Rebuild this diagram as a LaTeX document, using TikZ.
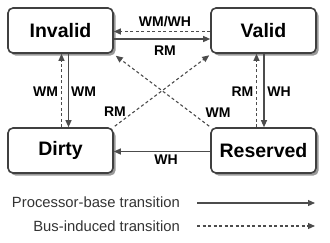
\documentclass[tikz,border=0pt]{standalone}
\usepackage{fontspec}
\setmainfont{Liberation Sans}
\usetikzlibrary{arrows.meta,shadows}
\begin{document}
\begin{tikzpicture}[x=1pt,y=-1pt,
  state/.style={draw=black!75,line width=1.6pt,rounded corners=5pt,fill=white,
    minimum width=105pt,minimum height=45pt,inner sep=0pt,
    font=\fontsize{19.5}{22}\selectfont\bfseries,
    drop shadow={shadow xshift=2.5pt,shadow yshift=-2.5pt,fill=black!40,opacity=1}},
  lbl/.style={font=\fontsize{14}{16}\selectfont\bfseries,inner sep=0pt},
  legend/.style={font=\fontsize{14.8}{16}\selectfont,inner sep=0pt,anchor=east,text=black!80},
  proc/.style={draw=black!70,line width=1.1pt,-{Triangle[length=7pt,width=6pt]}},
  bus/.style={proc,dash pattern=on 3pt off 2.5pt}]
\useasboundingbox (0,0) rectangle (330,242);

% states
\node[state] (inv) at (60.5,30.5) {Invalid};
\node[state] (val) at (263.5,30.5) {Valid};
\node[state] (dir) at (60.5,150.5) {Dirty};
\node[state] (res) at (263.5,150.5) {Reserved};

% transitions
\draw[bus] ([yshift=-1pt]val.west) -- ([yshift=-1pt]inv.east);
\draw[proc] ([yshift=-8.5pt]inv.east) -- ([yshift=-8.5pt]val.west);
\draw[bus] ([xshift=1pt]dir.north) -- ([xshift=1pt]inv.south);
\draw[proc] ([xshift=8pt]inv.south) -- ([xshift=8pt]dir.north);
\draw[bus] ([xshift=-7pt]res.north) -- ([xshift=-7pt]val.south);
\draw[proc] ([xshift=0.5pt]val.south) -- ([xshift=0.5pt]res.north);
\draw[proc] ([yshift=-1pt]res.west) -- ([yshift=-1pt]dir.east);
\draw[bus] ([shift={(1pt,1pt)}]dir.north east) -- ([shift={(-1pt,-1.5pt)}]val.south west);
\draw[bus] ([shift={(-1pt,1pt)}]res.north west) -- ([shift={(2pt,-2pt)}]inv.south east);

% labels
\node[lbl] (wmwh) at (165,21.5) {WM/WH};
\node[lbl] (rmtop) at (165,50.5) {RM};
\node[lbl] (wmleft) at (45.5,92) {WM};
\node[lbl] (wmright) at (83.5,92) {WM};
\node[lbl] (rmright) at (242.5,92) {RM};
\node[lbl] (whright) at (279,92) {WH};
\node[lbl] (rmdiag) at (115,111.5) {RM};
\node[lbl] (wmdiag) at (218,112.5) {WM};
\node[lbl] (whbot) at (166,159.5) {WH};

% legend
\node[legend] (lproc) at (180,202.5) {Processor-base transition};
\node[legend] (lbus) at (180,226) {Bus-induced transition};
\coordinate (pa) at (197,203);
\coordinate (pb) at (315,203);
\coordinate (ba) at (197,226);
\coordinate (bb) at (315,226);
\draw[proc] (pa) -- (pb);
\draw[bus] (ba) -- (bb);
\end{tikzpicture}
\end{document}
